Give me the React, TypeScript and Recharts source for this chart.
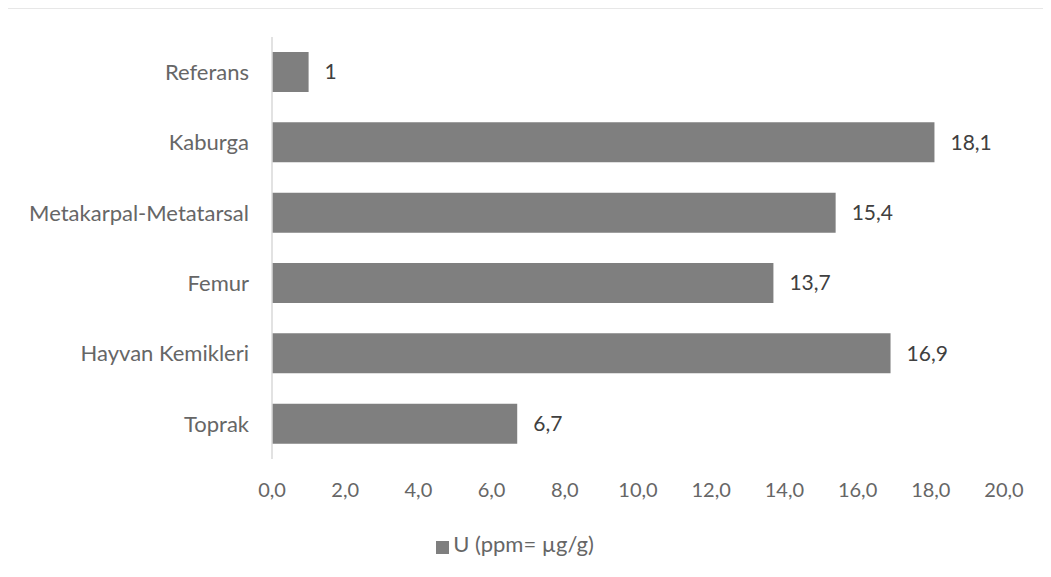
import { BarChart, Bar, XAxis, YAxis, Legend, LabelList, Customized } from "recharts"

const categories = ["Referans", "Kaburga", "Metakarpal-Metatarsal", "Femur", "Hayvan Kemikleri", "Toprak"]
const uValues = [1, 18.1, 15.4, 13.7, 16.9, 6.7]
const xTicks = [0, 2, 4, 6, 8, 10, 12, 14, 16, 18, 20]

const SERIES_NAME = "U (ppm= µg/g)"
const BAR_COLOR = "#7f7f7f"
const TEXT_COLOR = "#666666"
const FONT = "Lato, 'Open Sans', sans-serif"

const data = categories.map((name, i) => ({ name, u: uValues[i] }))

const trComma = (v: number) => String(v).replace(".", ",")

// outer chart frame; only its top and left edges fall inside the canvas
const Frame = () => (
  <rect x={7} y={7.5} width={1100} height={600} stroke="#d0d0d0" strokeWidth={2} fill="none" />
)

export default function App() {
  return (
    <div style={{ margin: -8, width: 1051, height: 577, fontFamily: FONT }}>
      <BarChart
        width={1051}
        height={577}
        data={data}
        layout="vertical"
        margin={{ top: 37, right: 47, left: 0, bottom: 9 }}
      >
        <Customized component={Frame} />
        <XAxis
          type="number"
          domain={[0, 20]}
          ticks={xTicks}
          tickFormatter={(v: number) => v.toFixed(1).replace(".", ",")}
          axisLine={false}
          tickLine={false}
          tickMargin={18}
          height={71}
          tick={{ fill: TEXT_COLOR, fontSize: 20, fontFamily: FONT }}
        />
        <YAxis
          type="category"
          dataKey="name"
          width={272}
          axisLine={{ stroke: "#d9d9d9", strokeWidth: 1.5 }}
          tickLine={false}
          tickMargin={17}
          tick={{ fill: TEXT_COLOR, fontSize: 22, fontFamily: FONT }}
        />
        <Legend
          verticalAlign="bottom"
          align="center"
          height={38}
          iconType="square"
          iconSize={13}
          wrapperStyle={{ paddingLeft: 18 }}
          formatter={(value) => (
            <span style={{ color: TEXT_COLOR, fontSize: 22, fontFamily: FONT }}>{value}</span>
          )}
        />
        <Bar dataKey="u" name={SERIES_NAME} fill={BAR_COLOR} barSize={40} isAnimationActive={false}>
          <LabelList
            dataKey="u"
            position="right"
            offset={16}
            formatter={(v: any) => trComma(Number(v))}
            style={{ fill: "#404040", fontSize: 21, fontFamily: FONT }}
          />
        </Bar>
      </BarChart>
    </div>
  )
}
